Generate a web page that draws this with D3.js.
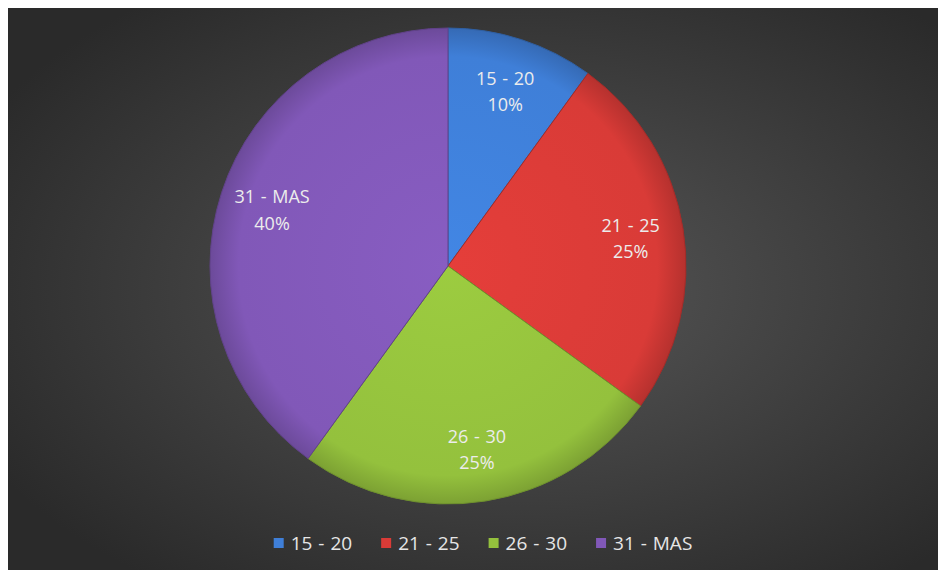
<!DOCTYPE html>
<meta charset="utf-8">
<html lang="es">
<head>
<title>Edades</title>
<style>
  body { margin: 0; background: #fff; }
  #chart svg { display: block; }
  .label-text { font-family: "Open Sans", "Noto Sans", sans-serif; font-size: 18px; fill: #ececec; word-spacing: 1px; }
  .legend-text { font-family: "Open Sans", "Noto Sans", sans-serif; font-size: 19px; fill: #e6e6e6; word-spacing: 1px; }
</style>
</head>
<body>
<div id="chart"></div>

<script src="https://d3js.org/d3.v7.min.js"></script>
<script>
// data
var categories = ["15 - 20", "21 - 25", "26 - 30", "31 - MAS"];
var values = [10, 25, 25, 40];
var colors = ["#3f7fd8", "#d93b37", "#94c13d", "#8158b8"];

var width = 939, height = 570;
var cx = 448, cy = 266, radius = 238;

var svg = d3.select("#chart").append("svg")
    .attr("width", width)
    .attr("height", height);

var defs = svg.append("defs");

// dark background, lighter towards the middle
var bg = defs.append("radialGradient").attr("id", "bg")
    .attr("cx", "55%").attr("cy", "50%").attr("r", "65%");
bg.append("stop").attr("offset", "0%").attr("stop-color", "#575757");
bg.append("stop").attr("offset", "100%").attr("stop-color", "#2a2a2a");

svg.append("rect")
    .attr("x", 8).attr("y", 8)
    .attr("width", width - 9).attr("height", height - 8)
    .attr("fill", "url(#bg)");

// one gradient per slice, gives the slight bevel look
colors.forEach(function (c, i) {
    var g = defs.append("radialGradient").attr("id", "sl" + i)
        .attr("gradientUnits", "userSpaceOnUse")
        .attr("cx", 0).attr("cy", 0).attr("r", radius);
    g.append("stop").attr("offset", "0%").attr("stop-color", d3.color(c).brighter(0.15));
    g.append("stop").attr("offset", "88%").attr("stop-color", c);
    g.append("stop").attr("offset", "100%").attr("stop-color", d3.color(c).darker(0.5));
});

var pie = d3.pie().sort(null).value(function (d) { return d; });
var arcs = pie(values);
var total = d3.sum(values);

var arc = d3.arc().innerRadius(0).outerRadius(radius);
var labelArc = d3.arc().innerRadius(185).outerRadius(185);

var g = svg.append("g").attr("transform", "translate(" + cx + "," + cy + ")");

g.selectAll("path.slice")
    .data(arcs)
    .enter().append("path")
    .attr("class", "slice")
    .attr("d", arc)
    .attr("fill", function (d, i) { return "url(#sl" + i + ")"; })
    .attr("stroke", function (d, i) { return d3.color(colors[i]).darker(0.8); })
    .attr("stroke-width", 1);

var labels = g.selectAll("text.label")
    .data(arcs)
    .enter().append("text")
    .attr("class", "label label-text")
    .attr("text-anchor", "middle")
    .attr("transform", function (d) {
        var c = labelArc.centroid(d);
        return "translate(" + c[0] + "," + c[1] + ")";
    });

labels.append("tspan")
    .attr("x", 0).attr("dy", "-0.3em")
    .text(function (d, i) { return categories[i]; });
labels.append("tspan")
    .attr("x", 0).attr("dy", "1.45em")
    .text(function (d) { return Math.round(d.value / total * 100) + "%"; });

// legend along the bottom, items laid out one after another
var legend = svg.append("g").attr("transform", "translate(0,543)");

var item = legend.selectAll("g.item")
    .data(categories)
    .enter().append("g")
    .attr("class", "item");

item.append("rect")
    .attr("x", -5).attr("y", -5)
    .attr("width", 10).attr("height", 10)
    .attr("fill", function (d, i) { return colors[i]; });

item.append("text")
    .attr("class", "legend-text")
    .attr("x", 12)
    .attr("dy", "0.35em")
    .text(function (d) { return d; });

var gap = 34;
var xpos = [], x = 0;
item.each(function () {
    xpos.push(x);
    x += 12 + this.querySelector("text").getComputedTextLength() + gap;
});
var legendWidth = x - gap + 5;
var start = 488 - legendWidth / 2;
item.attr("transform", function (d, i) { return "translate(" + (start + xpos[i]) + ",0)"; });
</script>
</body>
</html>
